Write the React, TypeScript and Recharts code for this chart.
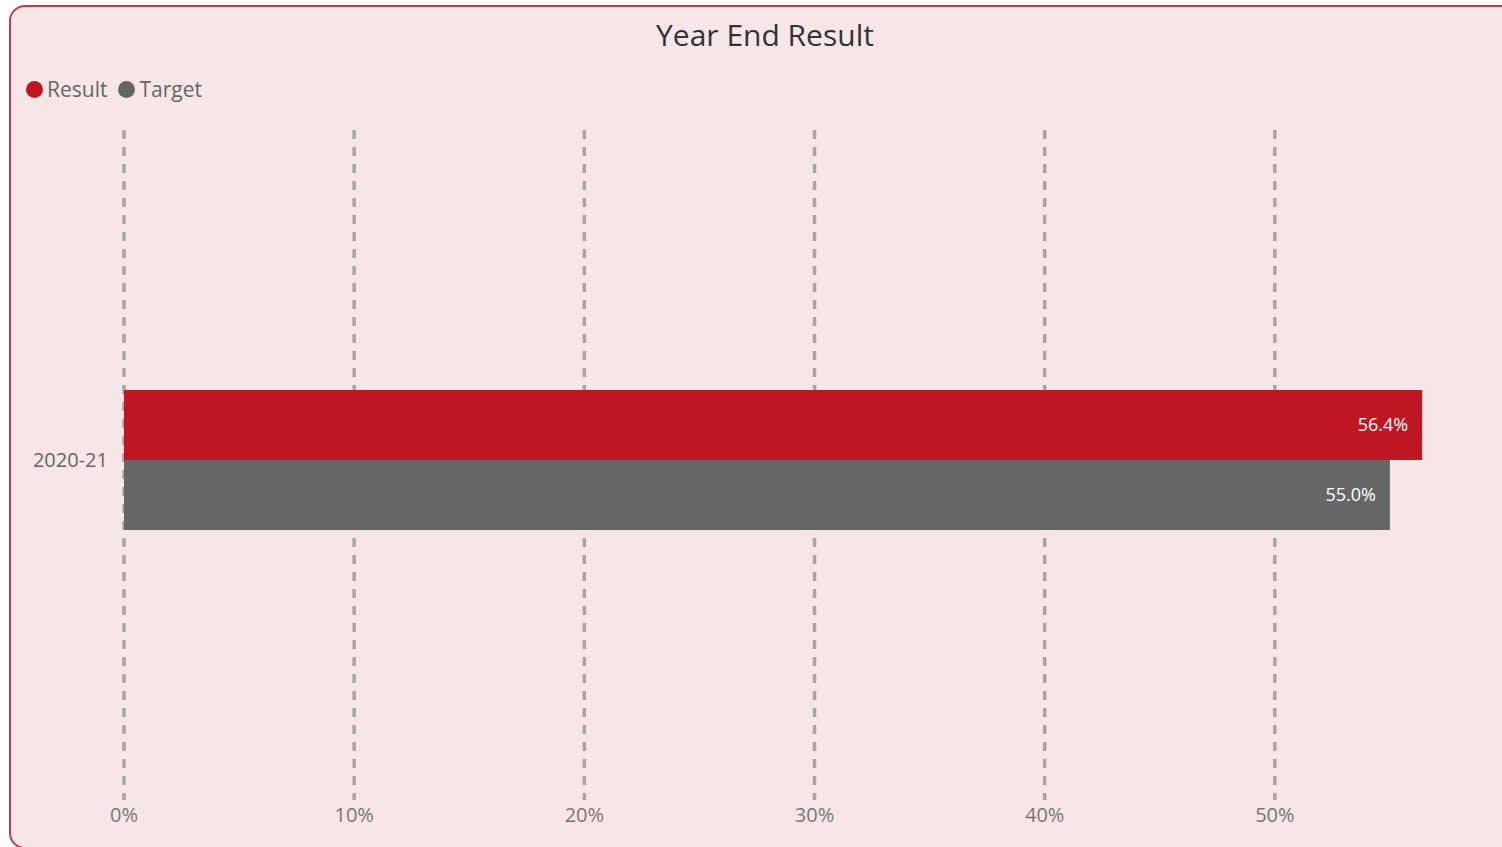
import { Bar, BarChart, CartesianGrid, LabelList, XAxis, YAxis } from "recharts";

const categories = ["2020-21"];
const resultValues = [0.564];
const targetValues = [0.55];
const xTicks = [0, 0.1, 0.2, 0.3, 0.4, 0.5];

const RED = "#be1622";
const GREY = "#666666";
const FONT = "'Open Sans', 'Noto Sans', sans-serif";

const data = categories.map((year, i) => ({
  year,
  result: resultValues[i],
  target: targetValues[i],
}));

const pct1 = (v: any) => `${(Number(v) * 100).toFixed(1)}%`;

function LegendDot({ color, label }: { color: string; label: string }) {
  return (
    <span style={{ display: "inline-flex", alignItems: "center", marginRight: 11 }}>
      <span
        style={{
          width: 17,
          height: 17,
          borderRadius: "50%",
          background: color,
          display: "inline-block",
          marginRight: 4,
        }}
      />
      <span style={{ color: "#666", fontSize: 21 }}>{label}</span>
    </span>
  );
}

export default function App() {
  return (
    <div
      style={{
        position: "fixed",
        left: 0,
        top: 0,
        width: 1502,
        height: 847,
        overflow: "hidden",
        background: "#ffffff",
        fontFamily: FONT,
      }}
    >
      <div
        style={{
          position: "absolute",
          left: 9,
          top: 5,
          width: 1600,
          height: 840,
          border: "2px solid #c43a46",
          borderRadius: 16,
          background: "#f7e6e7",
        }}
      />
      <div
        style={{
          position: "absolute",
          left: 465,
          width: 600,
          top: 14,
          textAlign: "center",
          fontSize: 30,
          color: "#333",
        }}
      >
        Year End Result
      </div>
      <div style={{ position: "absolute", left: 26, top: 75, display: "flex" }}>
        <LegendDot color={RED} label="Result" />
        <LegendDot color={GREY} label="Target" />
      </div>
      <div style={{ position: "absolute", left: 0, top: 0 }}>
        <BarChart
          width={1560}
          height={847}
          data={data}
          layout="vertical"
          margin={{ top: 130, right: 55, bottom: 7, left: 0 }}
          barGap={0}
          barSize={70}
        >
          <CartesianGrid
            horizontal={false}
            stroke="#a6a6a6"
            strokeWidth={3.5}
            strokeDasharray="9 8"
          />
          <XAxis
            type="number"
            domain={[0, 0.6]}
            ticks={xTicks}
            tickFormatter={(v: number) => `${Math.round(v * 100)}%`}
            axisLine={false}
            tickLine={false}
            height={40}
            tick={{ fill: "#777", fontSize: 20, fontFamily: FONT }}
          />
          <YAxis
            type="category"
            dataKey="year"
            width={124}
            axisLine={false}
            tickLine={false}
            tickMargin={10}
            padding={{ top: 0, bottom: 10 }}
            tick={{ fill: "#666", fontSize: 20, fontFamily: FONT }}
          />
          <Bar dataKey="result" fill={RED} isAnimationActive={false}>
            <LabelList
              dataKey="result"
              position="insideRight"
              offset={14}
              formatter={pct1}
              fill="#ffffff"
              fontSize={18}
              fontFamily={FONT}
            />
          </Bar>
          <Bar dataKey="target" fill={GREY} isAnimationActive={false}>
            <LabelList
              dataKey="target"
              position="insideRight"
              offset={14}
              formatter={pct1}
              fill="#ffffff"
              fontSize={18}
              fontFamily={FONT}
            />
          </Bar>
        </BarChart>
      </div>
    </div>
  );
}
